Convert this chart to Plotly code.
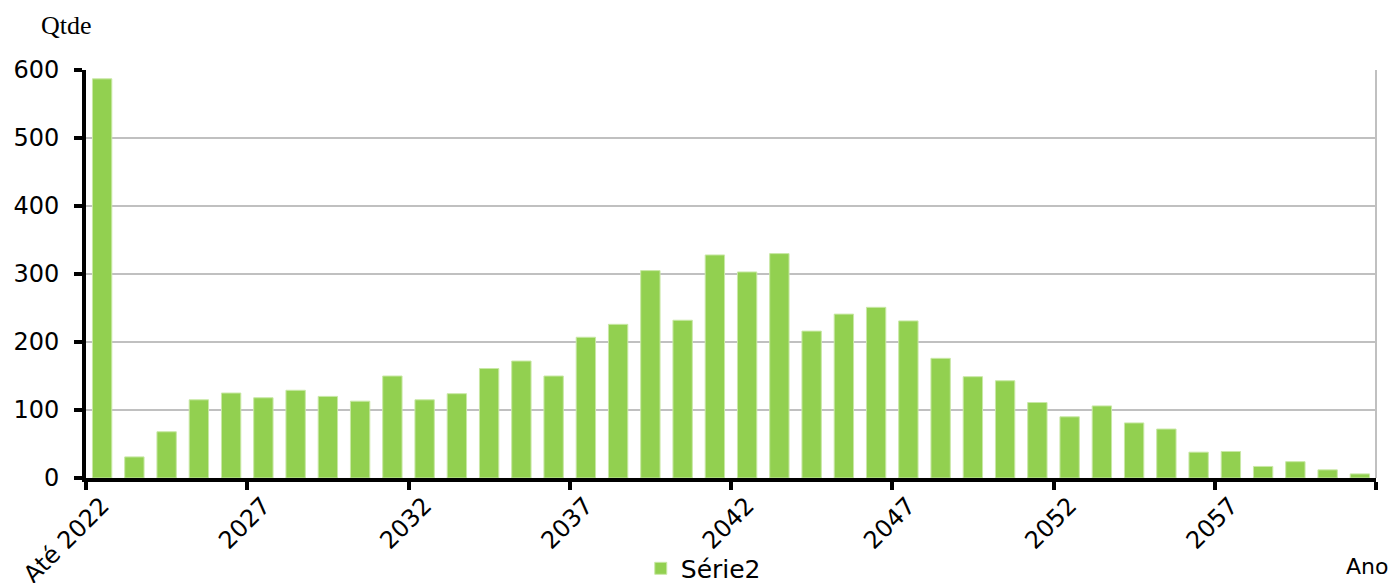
import plotly.graph_objects as go

categories = ["Até 2022"] + [str(y) for y in range(2023, 2062)]
values = [587, 31, 68, 115, 125, 118, 129, 120, 113, 150,
          115, 124, 161, 172, 150, 207, 226, 305, 232, 328,
          303, 330, 216, 241, 251, 231, 176, 149, 143, 111,
          90, 106, 81, 72, 38, 39, 17, 24, 12, 6]
series_name = "Série2"
y_ticks = [0, 100, 200, 300, 400, 500, 600]

fig = go.Figure()
fig.add_trace(go.Bar(
    x=categories, y=values, name=series_name,
    marker=dict(color="#92D050", line=dict(color="#C9E8A6", width=1)),
    showlegend=True,
))

font_sans = "DejaVu Sans"
fig.update_layout(
    width=1388, height=575,
    margin=dict(l=78, r=20, t=62, b=105, autoexpand=False),
    plot_bgcolor="white", paper_bgcolor="white",
    bargap=0.4,
    font=dict(family=font_sans, color="black", size=24),
    xaxis=dict(
        type="category", automargin=False,
        tickmode="linear", tick0=0, dtick=5,
        tickson="boundaries",
        tickangle=-45,
        ticks="outside", ticklen=8, tickwidth=4, tickcolor="black",
        showline=True, linecolor="black", linewidth=4,
        showgrid=False,
        tickfont=dict(family=font_sans, size=24, color="black"),
        range=[-0.5, len(categories) - 0.5],
    ),
    yaxis=dict(
        range=[0, 600], automargin=False,
        tickvals=y_ticks,
        ticks="outside", ticklen=8, tickwidth=4, tickcolor="black",
        ticklabelstandoff=10,
        showline=True, linecolor="black", linewidth=4,
        showgrid=True, gridcolor="#C0C0C0", gridwidth=2,
        zeroline=False,
        tickfont=dict(family=font_sans, size=24, color="black"),
    ),
    legend=dict(
        orientation="h", x=0.4785, xanchor="center", y=-0.222, yanchor="middle",
        font=dict(family=font_sans, size=25, color="black"),
        bgcolor="rgba(0,0,0,0)", itemwidth=30,
    ),
    shapes=[dict(type="line", xref="paper", yref="paper", x0=1, x1=1, y0=0, y1=1,
                 line=dict(color="#C0C0C0", width=2), layer="below")],
    annotations=[
        dict(text="Qtde", xref="paper", yref="paper", x=-0.0155, y=1.108,
             xanchor="center", yanchor="middle", showarrow=False,
             font=dict(family="Liberation Serif", size=26, color="black")),
        dict(text="Ano", xref="paper", yref="paper", x=1.0105, y=-0.218,
             xanchor="right", yanchor="middle", showarrow=False,
             font=dict(family=font_sans, size=22, color="black")),
    ],
)

fig.write_html("out.html")
